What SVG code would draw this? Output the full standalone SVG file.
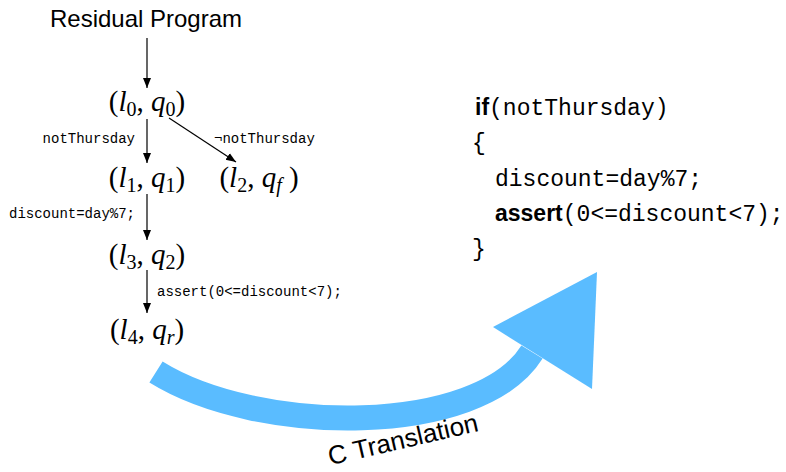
<svg xmlns="http://www.w3.org/2000/svg" width="786" height="472" viewBox="0 0 786 472">
<defs>
<marker id="ah" viewBox="0 0 10 10" refX="10" refY="5" markerWidth="10" markerHeight="10" markerUnits="userSpaceOnUse" orient="auto">
<path d="M0,1 L10,5 L0,9 Z" fill="#000"/>
</marker>
</defs>
<style>
.title{font-family:"Liberation Sans",Arial,sans-serif;font-size:24px;fill:#000}
.math{font-family:"Liberation Serif","Times New Roman",serif;font-size:29px;fill:#000}
.it{font-style:italic}
.sub{font-size:20px}
.lbl{font-family:"Liberation Mono","Courier New",monospace;font-size:14px;fill:#000}
.code{font-family:"Liberation Mono","Courier New",monospace;font-size:23px;fill:#000}
.kw{font-family:"Liberation Sans",Arial,sans-serif;font-weight:bold;font-size:23px}
.edge{stroke:#000;stroke-width:1.2;fill:none;marker-end:url(#ah)}
.blue{fill:#5abcff}
</style>
<rect width="786" height="472" fill="#fff"/>
<g id="title"><text class="title" x="146" y="27" text-anchor="middle">Residual Program</text></g>
<g id="connectors">
<line class="edge" x1="147" y1="38" x2="147" y2="88"/>
<line class="edge" x1="147" y1="119" x2="147" y2="163"/>
<line class="edge" x1="169" y1="118" x2="236" y2="162"/>
<line class="edge" x1="147" y1="194" x2="147" y2="240"/>
<line class="edge" x1="147" y1="270" x2="147" y2="313"/>
<text class="lbl" x="135" y="143" text-anchor="end">notThursday</text>
<text class="lbl" x="214" y="143">¬notThursday</text>
<text class="lbl" x="9" y="218">discount=day%7;</text>
<text class="lbl" x="157" y="296">assert(0&lt;=discount&lt;7);</text>
</g>
<g id="n0"><text class="math" x="147" y="111" text-anchor="middle">(<tspan class="it">l</tspan><tspan class="sub" dy="5">0</tspan><tspan dy="-5">, </tspan><tspan class="it">q</tspan><tspan class="sub" dy="5">0</tspan><tspan dy="-5">)</tspan></text></g>
<g id="n1"><text class="math" x="147" y="187" text-anchor="middle">(<tspan class="it">l</tspan><tspan class="sub" dy="5">1</tspan><tspan dy="-5">, </tspan><tspan class="it">q</tspan><tspan class="sub" dy="5">1</tspan><tspan dy="-5">)</tspan></text></g>
<g id="n2"><text class="math" x="259" y="187" text-anchor="middle">(<tspan class="it">l</tspan><tspan class="sub" dy="5">2</tspan><tspan dy="-5">, </tspan><tspan class="it">q</tspan><tspan class="sub it" dy="5">f</tspan><tspan dy="-5"> )</tspan></text></g>
<g id="n3"><text class="math" x="147" y="264" text-anchor="middle">(<tspan class="it">l</tspan><tspan class="sub" dy="5">3</tspan><tspan dy="-5">, </tspan><tspan class="it">q</tspan><tspan class="sub" dy="5">2</tspan><tspan dy="-5">)</tspan></text></g>
<g id="n4"><text class="math" x="147" y="339" text-anchor="middle">(<tspan class="it">l</tspan><tspan class="sub" dy="5">4</tspan><tspan dy="-5">, </tspan><tspan class="it">q</tspan><tspan class="sub it" dy="5">r</tspan><tspan dy="-5">)</tspan></text></g>
<g id="code">
<text class="code" x="475" y="115"><tspan class="kw">if</tspan>(notThursday)</text>
<text class="code" x="472" y="150">{</text>
<text class="code" x="495" y="186">discount=day%7;</text>
<text class="code" x="495" y="221"><tspan class="kw">assert</tspan>(0&lt;=discount&lt;7);</text>
<text class="code" x="472" y="256">}</text>
</g>
<g id="translation-arrow">
<path d="M156,372 C258,435.6 479,437 532,352" fill="none" stroke="#5abcff" stroke-width="25"/>
<polygon class="blue" points="493,327 597,272 592,389"/>
<text x="405" y="448" text-anchor="middle" transform="rotate(-13 405 448)" style="font-family:'Liberation Sans',Arial,sans-serif;font-size:26px;fill:#000">C Translation</text>
</g>
</svg>
